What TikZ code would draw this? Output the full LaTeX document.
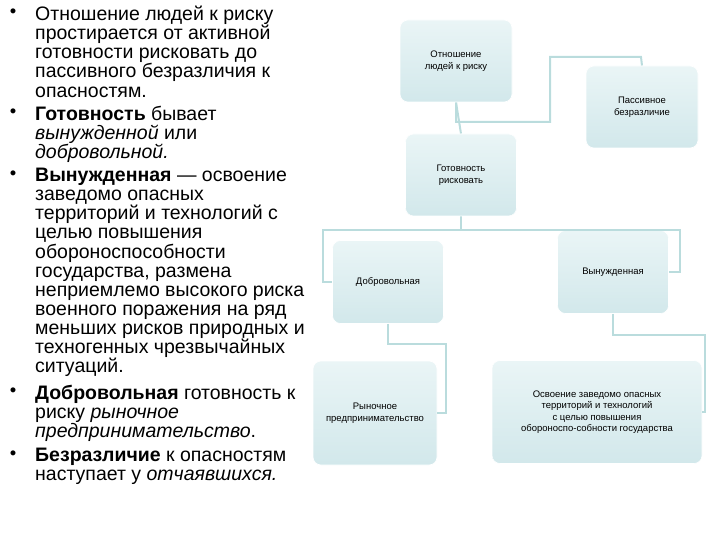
\documentclass[tikz,border=0pt]{standalone}
\usepackage{fontspec}
\setmainfont{Liberation Sans}
\begin{document}
\begin{tikzpicture}[x=1pt,y=-1pt,
  box/.style={rounded corners=8pt,draw=white,line width=0.6pt,top color=boxtop,bottom color=boxbot,
    font=\fontsize{9.5}{11.5}\selectfont,align=center,inner sep=0pt},
  con/.style={draw=linec,line width=2pt},
  bul/.style={anchor=north west,align=left,inner sep=0pt,font=\fontsize{19.5}{19.1}\selectfont}]
\definecolor{boxtop}{HTML}{EAF5F6}
\definecolor{boxbot}{HTML}{D2E8EB}
\definecolor{linec}{HTML}{BADCDD}
\useasboundingbox (0,0) rectangle (720,540);
\node[box,minimum width=112pt,minimum height=82pt] (otn) at (456,61) {Отношение\\людей к риску};
\node[box,minimum width=112pt,minimum height=82pt] (pas) at (642,107) {Пассивное\\безразличие};
\node[box,minimum width=111pt,minimum height=82pt] (got) at (461,175) {Готовность\\рисковать};
\node[box,minimum width=111pt,minimum height=83pt] (dob) at (388,282) {Добровольная};
\node[box,minimum width=111pt,minimum height=83pt] (vyn) at (613,272) {Вынужденная};
\node[box,minimum width=124pt,minimum height=104pt] (ryn) at (375,413) {Рыночное\\предпринимательство};
\node[box,minimum width=210pt,minimum height=103pt] (osv) at (597,412) {Освоение заведомо опасных\\территорий и технологий\\с целью повышения\\обороноспо-собности государства};
\draw[con] (otn.south) -- (got.north);
\draw[con] (otn.south) |- (550,122) |- (641,57) -- (pas.north);
\draw[con] (got.south) |- (323,230) |- (dob.west);
\draw[con] (got.south) |- (680,230) |- (vyn.east);
\draw[con] (dob.south) |- (446,344) |- (ryn.east);
\draw[con] (vyn.south) |- (705,335) |- (osv.east);
% redraw boxes over lines
\node[box,minimum width=112pt,minimum height=82pt] at (456,61) {Отношение\\людей к риску};
\node[box,minimum width=111pt,minimum height=82pt] at (461,175) {Готовность\\рисковать};
\node[box,minimum width=112pt,minimum height=82pt] at (642,107) {Пассивное\\безразличие};
% text
\node[bul] (t1) at (35,6) {Отношение людей к риску\\простирается от активной\\готовности рисковать до\\пассивного безразличия к\\опасностям.};
\node[bul] (t2) at (35,106) {\textbf{Готовность} бывает\\\textit{вынужденной} или\\\textit{добровольной.}};
\node[bul] (t3) at (35,168) {\textbf{Вынужденная} — освоение\\заведомо опасных\\территорий и технологий с\\целью повышения\\обороноспособности\\государства, размена\\неприемлемо высокого риска\\военного поражения на ряд\\меньших рисков природных и\\техногенных чрезвычайных\\ситуаций.};
\node[bul] (t4) at (35,385) {\textbf{Добровольная} готовность к\\риску \textit{рыночное}\\\textit{предпринимательство}.};
\node[bul] (t5) at (35,448) {\textbf{Безразличие} к опасностям\\наступает у \textit{отчаявшихся.}};
\foreach \y/\n in {13/b1,113/b2,175/b3,392/b4,455/b5}
  \node[font=\fontsize{18.5}{21.7}\selectfont,inner sep=0pt] (\n) at (13,\y) {•};
\end{tikzpicture}
\end{document}
